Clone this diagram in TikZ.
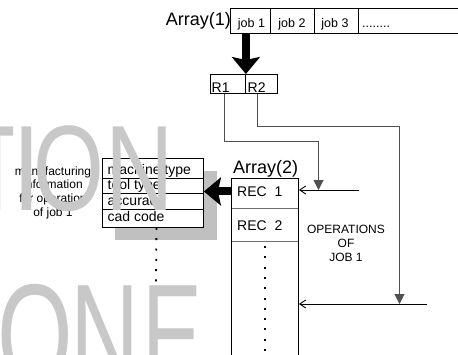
\documentclass[tikz,border=0pt]{standalone}
\usepackage{fontspec}
\setmainfont{Liberation Sans}
\usepackage{graphicx}
\usetikzlibrary{arrows.meta,calc}

\definecolor{wmgray}{RGB}{200,200,200}
\definecolor{shadowgray}{RGB}{192,192,192}
\definecolor{linkgray}{RGB}{80,80,80}
\definecolor{rulegray}{RGB}{110,110,110}

\newcommand{\fsz}[1]{\fontsize{#1}{#1}\selectfont}

\begin{document}
\begin{tikzpicture}[x=1pt,y=-1pt,
  box/.style={draw=black, line width=0.9pt, fill=white, inner sep=0pt, anchor=north west},
  rowbox/.style={draw=rulegray, line width=0.9pt, fill=white, inner sep=0pt, anchor=north west},
  txt/.style={inner sep=0pt, text=black},
  bigarrow/.style={line width=8pt, -{Stealth[length=17pt,width=28pt,inset=3pt]}},
  link/.style={draw=linkgray, line width=1pt, -{Triangle[length=10pt,width=10pt]}},
  inarrow/.style={draw=black, line width=0.9pt, -{Straight Barb[length=6pt,width=8pt]}},
  dotline/.style={draw=black, line width=1.8pt, dash pattern=on 2pt off 8.3pt},
  wm/.style={text=wmgray, inner sep=0pt, anchor=base}
]
\useasboundingbox (0,0) rectangle (458,354);
\clip (0,0) rectangle (458,354);

% ---- Array(1): list of jobs ----
\node[box, minimum width=40pt, minimum height=25pt] (job1) at (230,8) {};
\node[box, minimum width=44pt, minimum height=25pt] (job2) at (270,8) {};
\node[box, minimum width=44pt, minimum height=25pt] (job3) at (314,8) {};
\node[box, minimum width=130pt, minimum height=25pt] (jobmore) at (358,8) {};
\node[txt, anchor=base east, font=\fsz{18}] (arr1lbl) at (231,25) {Array(1)};
\node[txt, anchor=base, font=\fsz{12.5}] (job1t) at (251.5,27.5) {job 1};
\node[txt, anchor=base, font=\fsz{12.5}] (job2t) at (292,27.5) {job 2};
\node[txt, anchor=base, font=\fsz{12.5}] (job3t) at (335,27.5) {job 3};
\node[txt, anchor=base west, font=\fsz{12.5}] (jobmoret) at (362,27.5) {........};

% ---- record pointers R1, R2 ----
\node[box, minimum width=35pt, minimum height=19pt] (R1) at (210,74) {};
\node[box, minimum width=32pt, minimum height=19pt] (R2) at (245,74) {};
\node[txt, anchor=base west, font=\fsz{14}] (R1t) at (211.5,92.5) {R1};
\node[txt, anchor=base west, font=\fsz{14}] (R2t) at (247.5,92.5) {R2};

\draw[bigarrow] (R1.north east |- job1.south) -- (R1.north east);

% ---- Array(2): operation records ----
\node[rowbox, minimum width=67pt, minimum height=30pt] (rec1) at (231,178) {};
\node[rowbox, minimum width=67pt, minimum height=33pt] (rec2) at (231,208) {};
\node[rowbox, minimum width=67pt, minimum height=140pt] (arr2rest) at (231,241) {};
\draw[black, line width=0.9pt] (rec1.north west) rectangle (arr2rest.south east);
\node[txt, anchor=base west, font=\fsz{18}] (arr2lbl) at (233,173) {Array(2)};
\node[txt, anchor=base west, font=\fsz{14}] (rec1t) at (237,196) {REC\ \ 1};
\node[txt, anchor=base west, font=\fsz{14}] (rec2t) at (237,230) {REC\ \ 2};
\draw[dotline] ([yshift=-5pt]arr2rest.north) -- (arr2rest.south);

\node[txt, anchor=north, align=center, font=\fontsize{12}{14}\selectfont] (opsjob)
  at (346,224.5) {OPERATIONS\\OF\\JOB 1};

% entry lines into Array(2)
\coordinate (in1) at (358.5,190);
\coordinate (in2) at (427,304);
\coordinate (hit1) at (318.5,190);
\coordinate (hit2) at (399.5,304);
\draw[inarrow] (in1) -- (in1 -| rec1.east);
\draw[inarrow] (in2) -- (in2 -| rec1.east);

\draw[link] ([xshift=-3.5pt]R1.south) -- ++(0,48) -| (hit1);
\draw[link] ([xshift=-4pt]R2.south) -- ++(0,33) -| (hit2);

% ---- manufacturing information table ----
\fill[shadowgray] (115,171) rectangle (217,240);
\node[box, minimum width=101pt, minimum height=20pt] (t1) at (102,158) {};
\node[box, minimum width=101pt, minimum height=15pt] (t2) at (102,178) {};
\node[box, minimum width=101pt, minimum height=16pt] (t3) at (102,193) {};
\node[box, minimum width=101pt, minimum height=18pt] (t4) at (102,209) {};
\node[txt, anchor=base west, font=\fsz{14}] (t1t) at (107.5,174.5) {machine type};
\node[txt, anchor=base west, font=\fsz{14}] (t2t) at (107.5,189.5) {tool type};
\node[txt, anchor=base west, font=\fsz{14}] (t3t) at (107.5,205) {accuracy};
\node[txt, anchor=base west, font=\fsz{14}] (t4t) at (107.5,221.5) {cad code};
\coordinate (tabdots) at (156,284);
\draw[dotline] ([xshift=3.5pt]t4.south) -- (tabdots);

\node[txt, anchor=north, align=center, font=\fontsize{12}{13.7}\selectfont] (mfginfo)
  at (53,166.3) {manufacturing\\information\\for operation\\of job 1};

\draw[bigarrow] ([yshift=2pt]rec1.west) -- ([yshift=2pt]rec1.west -| t2.east);

% ---- watermark lettering ----
\node[wm, font=\fsz{121.5}] (wmT) at (-1.5,210) {\scalebox{0.45}[1]{T}};
\node[wm, font=\fsz{121.5}] (wmI) at (27,210) {\scalebox{0.85}[1]{I}};
\node[wm, font=\fsz{121.5}] (wmO) at (69,210) {\scalebox{0.75}[1]{O}};
\node[wm, font=\fsz{121.5}] (wmN) at (140,210) {\scalebox{0.78}[1]{N}};
\node[wm, font=\fsz{145}] (wmO2) at (35,385) {\scalebox{0.67}[1]{O}};
\node[wm, font=\fsz{145}] (wmN2) at (105.5,385) {\scalebox{0.66}[1]{N}};
\node[wm, font=\fsz{145}] (wmE2) at (172.5,385) {\scalebox{0.62}[1]{E}};
\end{tikzpicture}
\end{document}
